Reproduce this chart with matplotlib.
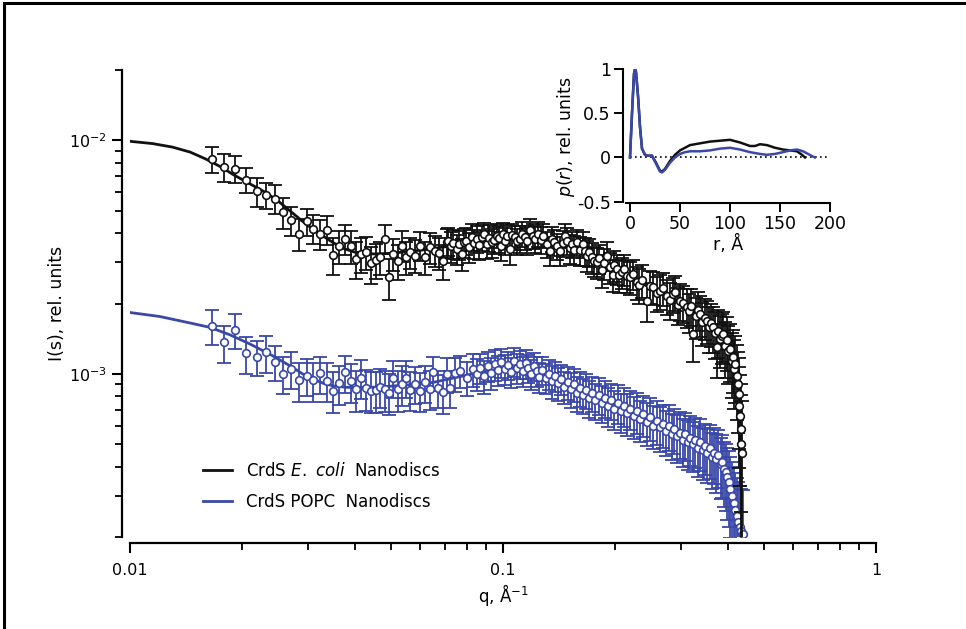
import numpy as np
import matplotlib
matplotlib.use('Agg')
from matplotlib import pyplot as plt
from matplotlib.patches import Rectangle

# Datos de dispersion: CrdS en nanodiscos E. coli (negro)
q_ecoli = [
    0.0166, 0.0179, 0.0191, 0.0205, 0.0219, 0.0231, 0.0245, 0.0257, 0.0270, 0.0284,
    0.0298, 0.0310, 0.0323, 0.0337, 0.0351, 0.0364, 0.0377, 0.0391, 0.0404, 0.0415,
    0.0429, 0.0442, 0.0457, 0.0468, 0.0483, 0.0496, 0.0508, 0.0522, 0.0535, 0.0550,
    0.0563, 0.0581, 0.0599, 0.0618, 0.0637, 0.0657, 0.0675, 0.0692, 0.0706, 0.0714,
    0.0725, 0.0736, 0.0751, 0.0762, 0.0775, 0.0786, 0.0796, 0.0810, 0.0824, 0.0837,
    0.0850, 0.0863, 0.0877, 0.0890, 0.0904, 0.0918, 0.0933, 0.0948, 0.0962, 0.0975,
    0.0986, 0.1000, 0.1012, 0.1028, 0.1044, 0.1060, 0.1077, 0.1093, 0.1110, 0.1127,
    0.1145, 0.1163, 0.1181, 0.1200, 0.1218, 0.1244, 0.1263, 0.1283, 0.1310, 0.1337,
    0.1355, 0.1370, 0.1395, 0.1422, 0.1445, 0.1466, 0.1487, 0.1508, 0.1528, 0.1552,
    0.1576, 0.1605, 0.1636, 0.1655, 0.1677, 0.1703, 0.1730, 0.1757, 0.1783, 0.1812,
    0.1840, 0.1868, 0.1897, 0.1936, 0.1968, 0.1990, 0.2017, 0.2048, 0.2080, 0.2115,
    0.2147, 0.2190, 0.2235, 0.2280, 0.2320, 0.2365, 0.2427, 0.2475, 0.2529, 0.2580,
    0.2636, 0.2690, 0.2746, 0.2800, 0.2850, 0.2892, 0.2940, 0.2983, 0.3040, 0.3108,
    0.3160, 0.3200, 0.3237, 0.3290, 0.3330, 0.3374, 0.3420, 0.3470, 0.3516, 0.3560,
    0.3610, 0.3660, 0.3700, 0.3740, 0.3780, 0.3820, 0.3860, 0.3896, 0.3940, 0.3980,
    0.4020, 0.4060, 0.4103, 0.4140, 0.4170, 0.4200, 0.4236, 0.4260, 0.4285, 0.4305,
    0.4320, 0.4340, 0.4355, 0.4370,
]
i_ecoli = [
    0.00829, 0.00768, 0.00756, 0.00678, 0.00604, 0.00581, 0.00562, 0.00492, 0.00454, 0.00398,
    0.00449, 0.00418, 0.00398, 0.00414, 0.00323, 0.00351, 0.00379, 0.00351, 0.00311, 0.00327,
    0.00332, 0.00297, 0.00308, 0.00316, 0.00379, 0.00259, 0.00327, 0.00305, 0.00354, 0.00316,
    0.00332, 0.00321, 0.00354, 0.00316, 0.00348, 0.00337, 0.00330, 0.00305, 0.00366, 0.00370,
    0.00352, 0.00362, 0.00343, 0.00358, 0.00327, 0.00365, 0.00372, 0.00350, 0.00387, 0.00362,
    0.00379, 0.00356, 0.00385, 0.00395, 0.00360, 0.00382, 0.00366, 0.00375, 0.00391, 0.00380,
    0.00354, 0.00395, 0.00372, 0.00388, 0.00343, 0.00392, 0.00385, 0.00370, 0.00379, 0.00398,
    0.00385, 0.00372, 0.00414, 0.00390, 0.00379, 0.00398, 0.00375, 0.00391, 0.00360, 0.00337,
    0.00378, 0.00366, 0.00352, 0.00337, 0.00362, 0.00391, 0.00372, 0.00345, 0.00360, 0.00340,
    0.00366, 0.00338, 0.00360, 0.00335, 0.00321, 0.00332, 0.00316, 0.00305, 0.00301, 0.00312,
    0.00277, 0.00298, 0.00321, 0.00286, 0.00266, 0.00292, 0.00281, 0.00265, 0.00272, 0.00280,
    0.00263, 0.00259, 0.00268, 0.00247, 0.00240, 0.00252, 0.00206, 0.00238, 0.00235, 0.00221,
    0.00227, 0.00232, 0.00216, 0.00208, 0.00219, 0.00224, 0.00198, 0.00206, 0.00201, 0.00193,
    0.00185, 0.00196, 0.00148, 0.00176, 0.00188, 0.00180, 0.00166, 0.00174, 0.00169, 0.00158,
    0.00165, 0.00158, 0.00150, 0.00130, 0.00152, 0.00141, 0.00145, 0.00148, 0.00131, 0.00139,
    0.00125, 0.00128, 0.00114, 0.00118, 0.00105, 0.00110, 0.00098, 0.00090, 0.00082, 0.00073,
    0.00066, 0.00058, 0.00050, 0.00046,
]
err_ecoli_pct = [
    13, 14, 13, 12, 14, 13, 14, 15, 14, 16,
    13, 14, 15, 14, 18, 16, 15, 16, 18, 17,
    16, 18, 17, 16, 14, 20, 16, 17, 15, 16,
    15, 16, 14, 16, 15, 15, 16, 17, 14, 14,
    15, 14, 15, 14, 16, 14, 13, 15, 13, 14,
    13, 14, 13, 12, 14, 13, 14, 13, 12, 13,
    14, 12, 13, 12, 15, 12, 12, 13, 13, 12,
    12, 13, 11, 12, 13, 12, 13, 12, 13, 14,
    12, 13, 13, 14, 13, 12, 13, 14, 13, 14,
    13, 14, 13, 14, 15, 14, 15, 15, 15, 14,
    16, 15, 14, 15, 16, 15, 15, 16, 15, 15,
    16, 16, 15, 16, 17, 16, 19, 16, 16, 17,
    17, 16, 17, 18, 17, 17, 18, 18, 18, 19,
    19, 18, 24, 20, 19, 20, 21, 20, 21, 22,
    21, 22, 23, 26, 23, 25, 24, 24, 27, 26,
    28, 28, 31, 30, 33, 32, 35, 38, 42, 46,
    50, 56, 62, 66,
]

# Datos de dispersion: CrdS en nanodiscos POPC (azul)
q_popc = [
    0.0166, 0.0179, 0.0191, 0.0205, 0.0219, 0.0231, 0.0245, 0.0257, 0.0270, 0.0284,
    0.0298, 0.0310, 0.0323, 0.0337, 0.0351, 0.0364, 0.0377, 0.0391, 0.0404, 0.0415,
    0.0429, 0.0442, 0.0457, 0.0468, 0.0483, 0.0496, 0.0508, 0.0522, 0.0535, 0.0550,
    0.0563, 0.0581, 0.0599, 0.0618, 0.0637, 0.0650, 0.0670, 0.0692, 0.0706, 0.0721,
    0.0743, 0.0767, 0.0799, 0.0833, 0.0850, 0.0870, 0.0890, 0.0910, 0.0930, 0.0950,
    0.0970, 0.0990, 0.1010, 0.1030, 0.1050, 0.1070, 0.1090, 0.1110, 0.1130, 0.1150,
    0.1170, 0.1190, 0.1210, 0.1230, 0.1250, 0.1275, 0.1300, 0.1325, 0.1350, 0.1375,
    0.1400, 0.1430, 0.1460, 0.1490, 0.1520, 0.1550, 0.1580, 0.1610, 0.1640, 0.1670,
    0.1700, 0.1735, 0.1770, 0.1805, 0.1840, 0.1875, 0.1910, 0.1950, 0.1990, 0.2030,
    0.2070, 0.2110, 0.2150, 0.2195, 0.2240, 0.2285, 0.2330, 0.2380, 0.2430, 0.2480,
    0.2530, 0.2580, 0.2630, 0.2680, 0.2730, 0.2780, 0.2830, 0.2880, 0.2930, 0.2980,
    0.3030, 0.3080, 0.3130, 0.3180, 0.3230, 0.3280, 0.3330, 0.3380, 0.3430, 0.3480,
    0.3530, 0.3580, 0.3630, 0.3680, 0.3730, 0.3780, 0.3830, 0.3870, 0.3910, 0.3950,
    0.3990, 0.4030, 0.4070, 0.4110, 0.4150, 0.4190, 0.4230, 0.4270, 0.4310, 0.4350,
    0.4390,
]
i_popc = [
    0.001607, 0.001362, 0.001540, 0.001222, 0.001183, 0.001234, 0.001126, 0.000997, 0.001047, 0.000939,
    0.000980, 0.000939, 0.001003, 0.000933, 0.000845, 0.000909, 0.001013, 0.000927, 0.000857, 0.000959,
    0.000869, 0.000845, 0.000852, 0.000880, 0.000860, 0.000830, 0.000964, 0.000860, 0.000903, 0.000959,
    0.000852, 0.000903, 0.000845, 0.000918, 0.000860, 0.001013, 0.000873, 0.000832, 0.000997, 0.000873,
    0.001003, 0.001031, 0.000964, 0.001047, 0.001000, 0.001060, 0.000980, 0.001080, 0.001010, 0.001100,
    0.001040, 0.001120, 0.001050, 0.001090, 0.001020, 0.001130, 0.001060, 0.001100, 0.001030, 0.001110,
    0.001060, 0.001000, 0.001080, 0.001030, 0.000970, 0.001040, 0.000960, 0.001000, 0.000930, 0.000980,
    0.000910, 0.000950, 0.000880, 0.000920, 0.000860, 0.000900, 0.000830, 0.000870, 0.000810, 0.000850,
    0.000790, 0.000830, 0.000770, 0.000810, 0.000750, 0.000790, 0.000730, 0.000770, 0.000710, 0.000750,
    0.000690, 0.000730, 0.000680, 0.000710, 0.000660, 0.000690, 0.000640, 0.000670, 0.000620, 0.000650,
    0.000600, 0.000630, 0.000590, 0.000610, 0.000570, 0.000600, 0.000550, 0.000580, 0.000540, 0.000560,
    0.000520, 0.000550, 0.000510, 0.000530, 0.000500, 0.000520, 0.000480, 0.000510, 0.000470, 0.000490,
    0.000460, 0.000480, 0.000440, 0.000460, 0.000430, 0.000450, 0.000410, 0.000420, 0.000390, 0.000380,
    0.000360, 0.000345, 0.000320, 0.000300, 0.000280, 0.000262, 0.000245, 0.000232, 0.000220, 0.000212,
    0.000206,
]
err_popc_pct = [
    17, 18, 17, 18, 17, 18, 17, 18, 18, 19,
    18, 19, 18, 19, 20, 19, 18, 19, 20, 19,
    20, 20, 20, 19, 20, 20, 18, 20, 19, 18,
    19, 18, 19, 18, 19, 17, 18, 19, 17, 18,
    17, 16, 17, 16, 16, 15, 16, 15, 16, 15,
    15, 14, 15, 14, 15, 14, 15, 14, 15, 14,
    14, 15, 14, 15, 15, 14, 15, 15, 16, 15,
    16, 15, 16, 16, 17, 16, 17, 17, 17, 17,
    18, 17, 18, 18, 18, 18, 19, 18, 19, 19,
    19, 19, 20, 19, 20, 20, 20, 20, 21, 21,
    21, 21, 22, 21, 22, 22, 22, 22, 23, 23,
    23, 23, 24, 24, 24, 24, 25, 25, 25, 25,
    26, 26, 27, 27, 28, 28, 29, 30, 31, 32,
    34, 36, 38, 40, 42, 44, 46, 48, 50, 52,
    55,
]

# Curvas de ajuste
q_fit_ecoli = [0.0100, 0.0115, 0.0130, 0.0145, 0.0160, 0.0175, 0.0190, 0.0210, 0.0230, 0.0250,
               0.0270, 0.0290, 0.0310, 0.0330, 0.0350, 0.0370, 0.0400, 0.0450, 0.0500, 0.0600,
               0.0700, 0.0800, 0.0900, 0.1000, 0.1100, 0.1200, 0.1300, 0.1400, 0.1600, 0.1800,
               0.2000, 0.2300, 0.2600, 0.3000, 0.3400, 0.3800, 0.4100]
i_fit_ecoli = [0.00990, 0.00968, 0.00935, 0.00890, 0.00830, 0.00770, 0.00710, 0.00650, 0.00600, 0.00548,
               0.00495, 0.00450, 0.00415, 0.00388, 0.00365, 0.00346, 0.00332, 0.00326, 0.00328, 0.00338,
               0.00350, 0.00362, 0.00372, 0.00380, 0.00384, 0.00383, 0.00376, 0.00366, 0.00345, 0.00310,
               0.00282, 0.00248, 0.00226, 0.00203, 0.00177, 0.00150, 0.00122]
q_fit_popc = [0.0100, 0.0120, 0.0140, 0.0164, 0.0185, 0.0210, 0.0240, 0.0269, 0.0290, 0.0310,
              0.0330, 0.0351, 0.0380, 0.0431, 0.0500, 0.0600, 0.0648, 0.0750, 0.0868, 0.1000,
              0.1150, 0.1300, 0.1500, 0.1750, 0.2000, 0.2500, 0.3000, 0.3500, 0.3900]
i_fit_popc = [0.00183, 0.00176, 0.00167, 0.00158, 0.00147, 0.00134, 0.00120, 0.00108, 0.00100, 0.000948,
              0.000910, 0.000887, 0.000875, 0.000873, 0.000885, 0.000905, 0.000918, 0.000965, 0.001015, 0.00105,
              0.00106, 0.00100, 0.000905, 0.00080, 0.00073, 0.00062, 0.00055, 0.00048, 0.00041]

# Distribucion de distancias p(r) para el recuadro
r_ecoli = [0, 2, 4, 5, 6, 8, 10, 12, 15, 18, 22, 26, 30, 32, 35, 40, 45, 50, 55, 60,
           65, 70, 80, 90, 100, 110, 120, 125, 130, 137, 145, 153, 160, 167, 172, 175]
pr_ecoli = [0.0, 0.5, 0.95, 1.0, 0.97, 0.7, 0.35, 0.1, 0.03, 0.02, 0.02, -0.06, -0.15, -0.16, -0.13, -0.04, 0.03, 0.08, 0.11, 0.14,
            0.15, 0.16, 0.18, 0.19, 0.2, 0.17, 0.13, 0.13, 0.15, 0.14, 0.11, 0.09, 0.08, 0.07, 0.03, 0.0]
r_popc = [0, 2, 4, 5, 6, 8, 10, 12, 15, 18, 22, 26, 30, 32, 35, 40, 45, 50, 55, 60,
          65, 70, 80, 90, 100, 110, 120, 130, 137, 145, 153, 160, 167, 173, 178, 183, 185]
pr_popc = [0.0, 0.5, 0.95, 1.0, 0.97, 0.7, 0.35, 0.1, 0.03, 0.02, 0.02, -0.07, -0.16, -0.17, -0.14, -0.06, 0.0, 0.04, 0.06, 0.07,
           0.07, 0.07, 0.08, 0.1, 0.11, 0.09, 0.06, 0.04, 0.03, 0.04, 0.06, 0.08, 0.09, 0.07, 0.04, 0.01, 0.0]

labels = ['CrdS $\\it{E.}$ $\\it{coli}$  Nanodiscs', 'CrdS POPC  Nanodiscs']
black = '#111111'
blue = '#3a48a8'

W, H = 966, 629
fig = plt.figure(figsize=(W / 100, H / 100), dpi=100)
plt.rcParams['font.family'] = ['DejaVu Sans']

# Marco de la figura (solo borde izquierdo y superior visibles)
fig.add_artist(Rectangle((4 / W, -0.1), 1.2, 1.1 - 3 / H, transform=fig.transFigure,
                         fill=False, edgecolor='black', linewidth=2.2, clip_on=False))

# Ejes principales
ax = fig.add_axes([130 / W, 1 - 537 / H, 746 / W, 467 / H])
ax.set_xscale('log')
ax.set_yscale('log')


def draw_series(q, i, pct, color, fq, fi, z):
    q = np.array(q)
    i = np.array(i)
    err = i * np.array(pct) / 100.0
    ax.errorbar(q, i, yerr=err, fmt='none', ecolor=color, elinewidth=1.3,
                capsize=5, capthick=1.3, zorder=z)
    ax.plot(fq, fi, color=color, linewidth=2.0, zorder=z + 0.1)
    ax.plot(q, i, linestyle='none', marker='o', markersize=5.5, markerfacecolor='white',
            markeredgecolor=color, markeredgewidth=1.2, zorder=z + 0.2)


draw_series(q_popc, i_popc, err_popc_pct, blue, q_fit_popc, i_fit_popc, 2)
draw_series(q_ecoli, i_ecoli, err_ecoli_pct, black, q_fit_ecoli, i_fit_ecoli, 3)

ax.set_xlim(0.01, 1)
ax.set_ylim(2e-4, 2e-2)
for s in ['top', 'right']:
    ax.spines[s].set_visible(False)
ax.spines['left'].set_position(('outward', 6))
ax.spines['bottom'].set_position(('outward', 4.5))
for s in ['left', 'bottom']:
    ax.spines[s].set_linewidth(1.6)
ax.set_xticks([0.01, 0.1, 1])
ax.set_xticklabels(['0.01', '0.1', '1'])
ax.set_yticks([1e-3, 1e-2])
ax.set_yticklabels(['$10^{-3}$', '$10^{-2}$'])
ax.tick_params(which='major', length=7, width=1.5, labelsize=11.5, direction='out')
ax.tick_params(which='minor', length=5, width=1.3, direction='out')
ax.tick_params(axis='x', which='major', pad=7)
ax.tick_params(axis='y', which='minor', labelleft=False)
ax.set_xlabel('q, Å$^{-1}$', fontsize=12, labelpad=3)
ax.set_ylabel('I(s), rel. units', fontsize=12.5, labelpad=2)
ax.patch.set_alpha(0)

# Leyenda
handles = [plt.Line2D([], [], color=black, linewidth=2),
           plt.Line2D([], [], color=blue, linewidth=2)]
fig.legend(handles, labels, loc='center left', bbox_to_anchor=(203 / W, 1 - 486.5 / H),
           bbox_transform=fig.transFigure, frameon=False, fontsize=12,
           handlelength=1.75, handletextpad=0.8, labelspacing=0.75,
           borderpad=0, borderaxespad=0)

# Recuadro con p(r)
axi = fig.add_axes([626 / W, 1 - 203.3 / H, 204 / W, 134 / H])
axi.plot([0, 197], [0, 0], color='black', linestyle=(0, (1, 2)), linewidth=1.2, zorder=1)
axi.plot(r_ecoli, pr_ecoli, color=black, linewidth=1.8, zorder=2)
axi.plot(r_popc, pr_popc, color=blue, linewidth=1.8, zorder=3)
axi.set_xlim(-4, 200)
axi.set_ylim(-0.52, 1.0)
for s in ['top', 'right']:
    axi.spines[s].set_visible(False)
axi.spines['left'].set_position(('outward', 2.5))
axi.spines['left'].set_bounds(-0.5, 1)
axi.spines['bottom'].set_bounds(-4, 200)
for s in ['left', 'bottom']:
    axi.spines[s].set_linewidth(1.5)
axi.set_xticks([0, 50, 100, 150, 200])
axi.set_yticks([-0.5, 0, 0.5, 1])
axi.set_yticklabels(['-0.5', '0', '0.5', '1'])
axi.tick_params(length=6.5, width=1.4, labelsize=12.5, direction='out', pad=2)
axi.set_xlabel('r, Å', fontsize=12.5, labelpad=1)
axi.set_ylabel('$\\mathit{p(r)}$, rel. units', fontsize=12.5, labelpad=0)
axi.patch.set_alpha(0)

fig.savefig('out.png', dpi=100)
